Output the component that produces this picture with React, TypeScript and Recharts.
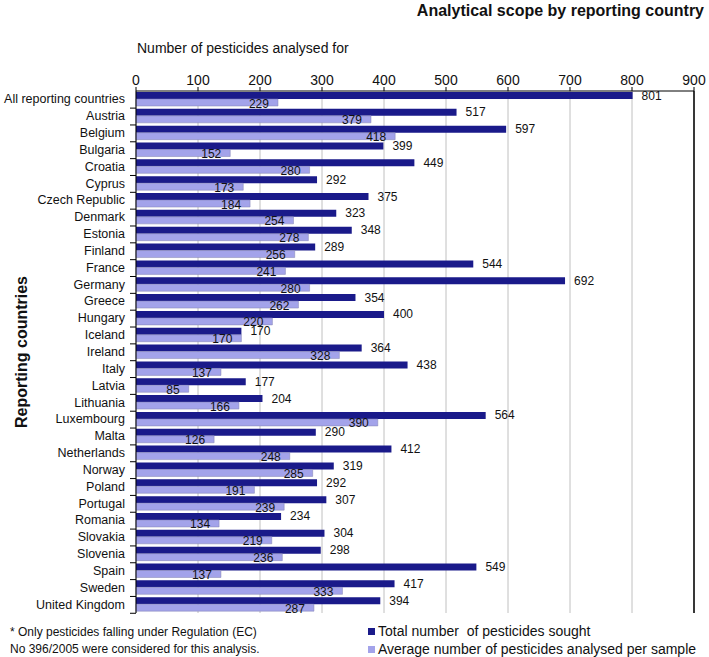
import React from 'react';
import { BarChart, Bar, XAxis, YAxis, CartesianGrid, ReferenceLine, LabelList } from 'recharts';

const countries = [
  'All reporting countries', 'Austria', 'Belgium', 'Bulgaria', 'Croatia', 'Cyprus', 'Czech Republic',
  'Denmark', 'Estonia', 'Finland', 'France', 'Germany', 'Greece', 'Hungary', 'Iceland', 'Ireland',
  'Italy', 'Latvia', 'Lithuania', 'Luxembourg', 'Malta', 'Netherlands', 'Norway', 'Poland',
  'Portugal', 'Romania', 'Slovakia', 'Slovenia', 'Spain', 'Sweden', 'United Kingdom',
];
const totalSought = [
  801, 517, 597, 399, 449, 292, 375, 323, 348, 289, 544, 692, 354, 400, 170, 364,
  438, 177, 204, 564, 290, 412, 319, 292, 307, 234, 304, 298, 549, 417, 394,
];
const avgPerSample = [
  229, 379, 418, 152, 280, 173, 184, 254, 278, 256, 241, 280, 262, 220, 170, 328,
  137, 85, 166, 390, 126, 248, 285, 191, 239, 134, 219, 236, 137, 333, 287,
];
const xTicks = [0, 100, 200, 300, 400, 500, 600, 700, 800, 900];

const data = countries.map((c, i) => ({ country: c, total: totalSought[i], avg: avgPerSample[i] }));

const DARK = '#1a1a8a';
const LIGHT = '#a3a3ea';
const FONT = '"Liberation Sans", Arial, sans-serif';

// category label plus a small tick at the lower band edge
const CountryTick = ({ x, y, payload }: any) => (
  <g>
    <text x={x - 3} y={y} dy={4} textAnchor="end" fontSize={12.5} fill="#111" fontFamily={FONT}>{payload.value}</text>
    <line x1={x + 2} x2={x + 8} y1={y + 8.7} y2={y + 8.7} stroke="#000" />
  </g>
);

const darkLabel = (p: any) => (
  <text x={p.x + p.width + 9} y={p.y + p.height / 2 + 4} fontSize={12} fill="#111" fontFamily={FONT}>{p.value}</text>
);
const lightLabel = (p: any) => (
  <text x={p.x + p.width - 9} y={p.y + p.height / 2 + 5} textAnchor="end" fontSize={12} fill="#111" fontFamily={FONT}>{p.value}</text>
);

export default function App() {
  return (
    <div style={{ position: 'absolute', left: 0, top: 0, width: 709, height: 657, background: '#fff', fontFamily: FONT }}>
      <div style={{ position: 'absolute', right: 5, top: 2, fontWeight: 'bold', fontSize: 16, color: '#111' }}>
        Analytical scope by reporting country
      </div>
      <div style={{ position: 'absolute', left: 137, top: 40, fontSize: 14, color: '#111' }}>
        Number of pesticides analysed for
      </div>
      <div style={{
        position: 'absolute', left: 22, top: 352, fontWeight: 'bold', fontSize: 16, color: '#111',
        transform: 'translate(-50%, -50%) rotate(-90deg)', whiteSpace: 'nowrap',
      }}>
        Reporting countries
      </div>
      <BarChart
        width={709}
        height={657}
        data={data}
        layout="vertical"
        margin={{ top: 61, left: 8, right: 15, bottom: 44 }}
        barCategoryGap={1}
        barGap={0}
      >
        <CartesianGrid horizontal={false} vertical stroke="#c0c0c0" />
        <XAxis
          type="number"
          orientation="top"
          domain={[0, 900]}
          ticks={xTicks}
          interval={0}
          height={30}
          axisLine={{ stroke: '#000' }}
          tickLine={{ stroke: '#000' }}
          tickSize={4}
          tick={{ fontSize: 14, fill: '#111', fontFamily: FONT }}
        />
        <YAxis
          type="category"
          dataKey="country"
          width={128}
          interval={0}
          axisLine={{ stroke: '#000' }}
          tickLine={false}
          tick={<CountryTick />}
        />
        <ReferenceLine x={900} stroke="#000" strokeWidth={1.5} />
        <Bar dataKey="total" fill={DARK} isAnimationActive={false}>
          <LabelList dataKey="total" content={darkLabel} />
        </Bar>
        <Bar dataKey="avg" fill={LIGHT} stroke="#8080b0" strokeWidth={0.5} isAnimationActive={false}>
          <LabelList dataKey="avg" content={lightLabel} />
        </Bar>
      </BarChart>
      <div style={{ position: 'absolute', left: 10, top: 624, fontSize: 12, lineHeight: '17px', color: '#111' }}>
        * Only pesticides falling under Regulation (EC)<br />No 396/2005 were considered for this analysis.
      </div>
      <div style={{ position: 'absolute', left: 368, top: 622, fontSize: 14, lineHeight: '18px', color: '#111' }}>
        <div style={{ display: 'flex', alignItems: 'center' }}>
          <span style={{ width: 7, height: 7, background: DARK, marginRight: 3, display: 'inline-block' }} />
          Total number&nbsp; of pesticides sought
        </div>
        <div style={{ display: 'flex', alignItems: 'center' }}>
          <span style={{ width: 7, height: 7, background: LIGHT, marginRight: 3, display: 'inline-block' }} />
          Average number of pesticides analysed per sample
        </div>
      </div>
    </div>
  );
}
